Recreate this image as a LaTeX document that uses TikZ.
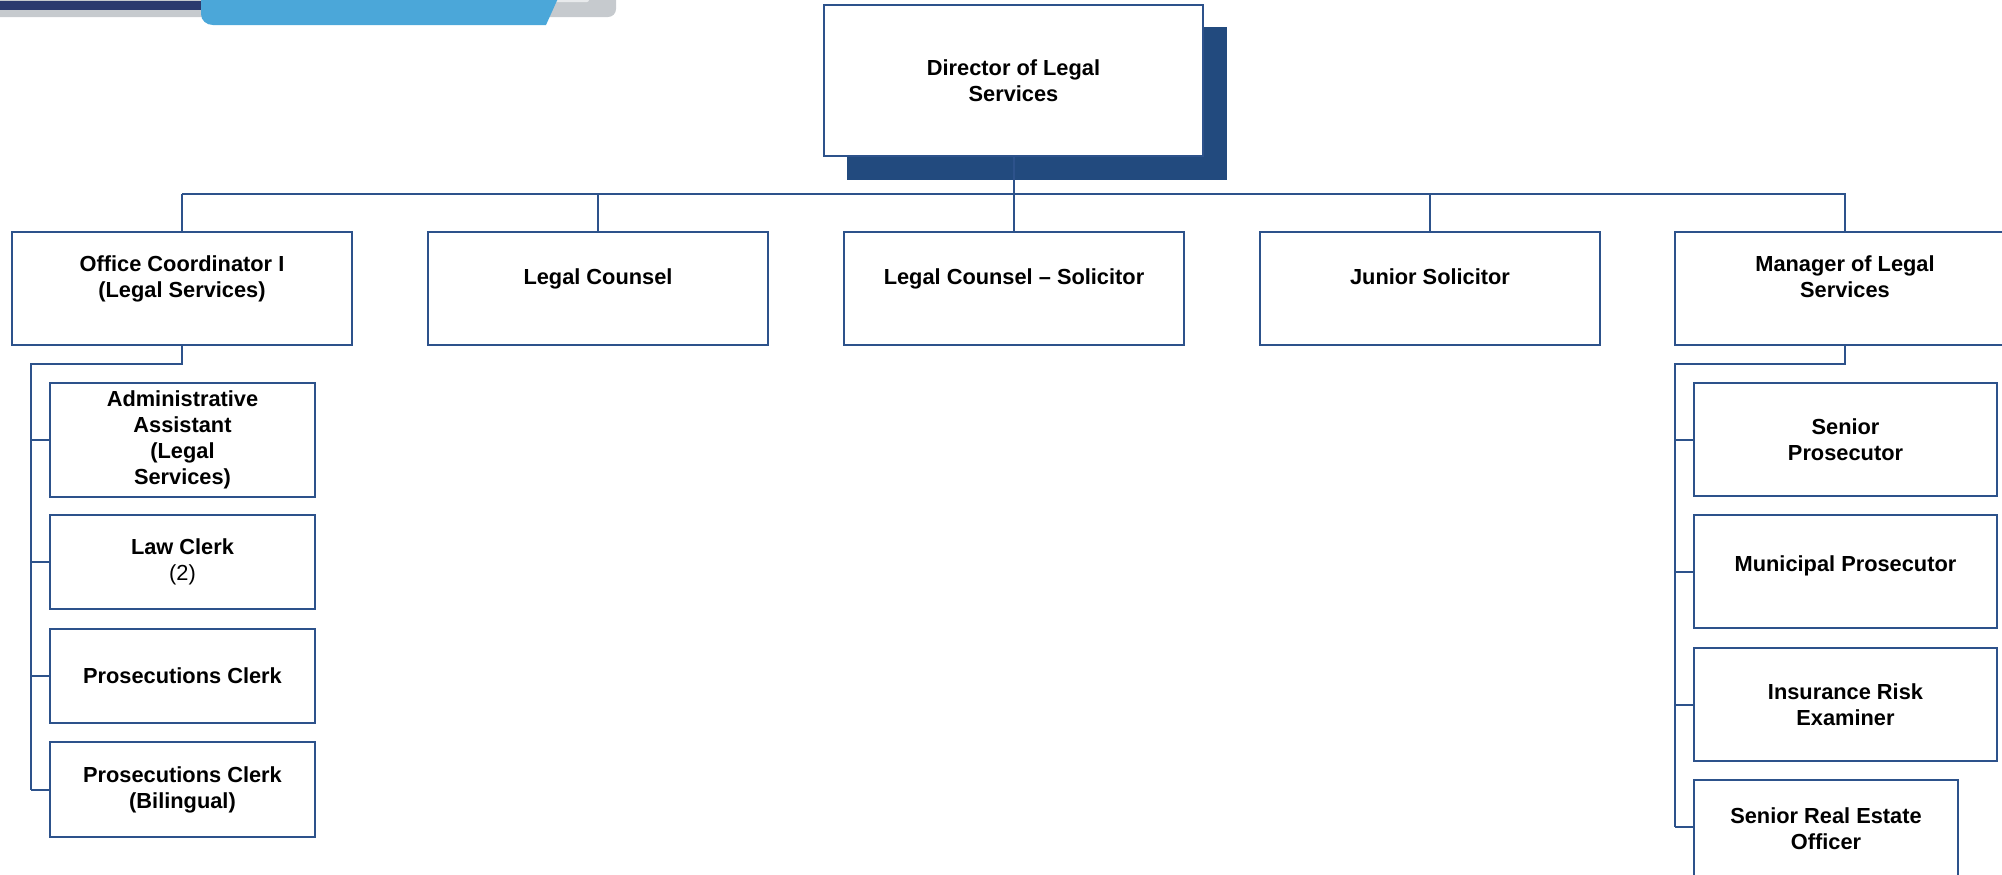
\documentclass[tikz,border=0pt]{standalone}
\usepackage{fontspec}
\setmainfont{Liberation Sans}
\definecolor{linec}{HTML}{2D528B}
\definecolor{shadowc}{HTML}{224A7E}
\definecolor{bannernavy}{HTML}{2B3A6E}
\definecolor{bannerblue}{HTML}{4BA7D9}
\definecolor{bannergrey}{HTML}{C6CACE}
\definecolor{bannerlight}{HTML}{E8EAEC}
% text of the second-row boxes sits a little above the box centre
\newcommand\liftup[1]{\raisebox{4.8pt}[\height][\depth]{\begin{tabular}{@{}c@{}}#1\end{tabular}}}
\tikzset{
  box/.style={draw=linec, line width=1pt, fill=white, inner sep=0pt, align=center,
              font=\bfseries\fontsize{10.9pt}{13pt}\selectfont},
  topbox/.style={box, minimum width=170pt, minimum height=56.5pt},
  leftbox/.style={box, minimum width=132.5pt},
  rightbox/.style={box, minimum width=151.5pt, minimum height=56.5pt},
  conn/.style={draw=linec, line width=1pt},
}
\begin{document}
\begin{tikzpicture}[x=0.5pt,y=-0.5pt]
\useasboundingbox (0,0) rectangle (2002,874);
\clip (0,0) rectangle (2002,874);

% header band
\fill[bannergrey, rounded corners=4pt] (-20,-10) -- (616,-10) -- (616,17) -- (-20,17) -- cycle;
\fill[bannerlight, rounded corners=1pt] (540,-4) -- (589,-4) -- (589,2) -- (540,2) -- cycle;
\fill[bannernavy] (-5,0.5) rectangle (205,10);
\fill[bannerblue] (201,-5) -- (559.5,-5) -- (546,25) -- (213,25)
  .. controls (206.5,25) and (201,20.5) .. (201,14) -- cycle;

% director with its offset shadow
\fill[shadowc] (847,27) rectangle (1227,180);
\node[box, minimum width=189.5pt, minimum height=75.5pt] (dir) at (1013.5,80.5)
  {Director of Legal\\Services};

% second row
\node[topbox] (oc)  at (182,288.5)  {\liftup{Office Coordinator I\\(Legal Services)}};
\node[topbox] (lc)  at (598,288.5)  {\liftup{Legal Counsel}};
\node[topbox] (lcs) at (1014,288.5) {\liftup{Legal Counsel – Solicitor}};
\node[topbox] (js)  at (1430,288.5) {\liftup{Junior Solicitor}};
\node[topbox] (mls) at (1845,288.5) {\liftup{Manager of Legal\\Services}};

% staff under the office coordinator
\node[leftbox, minimum height=57pt]   (aa)  at (182.5,440)   {Administrative\\Assistant\\(Legal\\Services)};
\node[leftbox, minimum height=47pt]   (law) at (182.5,562)   {Law Clerk\\{\mdseries (2)}};
\node[leftbox, minimum height=47pt]   (pc)  at (182.5,676)   {Prosecutions Clerk};
\node[leftbox, minimum height=47.5pt] (pcb) at (182.5,789.5) {Prosecutions Clerk\\(Bilingual)};

% staff under the manager
\node[rightbox] (sp)  at (1845.5,439.5) {Senior\\Prosecutor};
\node[rightbox] (mp)  at (1845.5,571.5) {\raisebox{2.75pt}[\height][\depth]{Municipal Prosecutor}};
\node[rightbox] (ire) at (1845.5,704.5) {Insurance Risk\\Examiner};
\node[box, minimum width=132pt, minimum height=49pt] (sreo) at (1826,829)
  {Senior Real Estate\\Officer};

% connectors: director to second row
\coordinate (busL) at (182,194);
\coordinate (busR) at (1846,194);
\draw[conn] (dir.south) -- (dir.south |- busL);
\draw[conn] (busL) -- (busR);
\foreach \n in {oc,lc,lcs,js,mls} \draw[conn] (\n.north) -- (\n.north |- busL);

% connectors: office coordinator branch
\coordinate (ltop) at (31,364);
\draw[conn] (oc.south) |- (ltop) -- (ltop |- pcb.west);
\foreach \n in {aa,law,pc,pcb} \draw[conn] (ltop |- \n.west) -- (\n.west);

% connectors: manager branch
\coordinate (rtop) at (1675,364);
\coordinate (rend) at (1675,827);
\draw[conn] (mls.south) |- (rtop) -- (rend);
\foreach \n in {sp,mp,ire} \draw[conn] (rtop |- \n.west) -- (\n.west);
\draw[conn] (rend) -- (sreo.west |- rend);
\end{tikzpicture}
\end{document}
